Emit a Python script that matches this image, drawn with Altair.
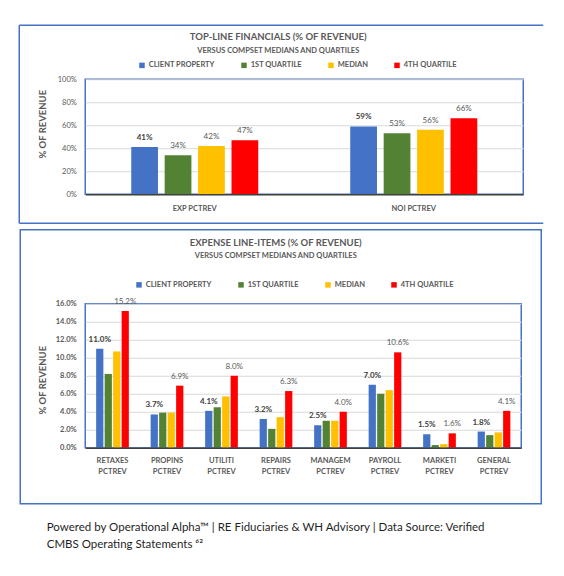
import altair as alt
import pandas as pd

# ---------------- data ----------------
SERIES = ["CLIENT PROPERTY", "1ST QUARTILE", "MEDIAN", "4TH QUARTILE"]
COLORS = ["#4472C4", "#548235", "#FFC000", "#FF0000"]

TOP_CATEGORIES = ["EXP PCTREV", "NOI PCTREV"]
TOP_CLIENT = [41, 59]
TOP_Q1 = [34, 53]
TOP_MEDIAN = [42, 56]
TOP_Q4 = [47, 66]

EXP_CATEGORIES = ["RETAXES PCTREV", "PROPINS PCTREV", "UTILITI PCTREV", "REPAIRS PCTREV",
                  "MANAGEM PCTREV", "PAYROLL PCTREV", "MARKETI PCTREV", "GENERAL PCTREV"]
EXP_CLIENT = [11.0, 3.7, 4.1, 3.2, 2.5, 7.0, 1.5, 1.8]
EXP_Q1 = [8.2, 3.9, 4.5, 2.1, 3.0, 6.0, 0.3, 1.4]
EXP_MEDIAN = [10.7, 3.9, 5.7, 3.4, 3.0, 6.4, 0.4, 1.7]
EXP_Q4 = [15.2, 6.9, 8.0, 6.3, 4.0, 10.6, 1.6, 4.1]

TOP_TICKS = [0, 20, 40, 60, 80, 100]
EXP_TICKS = [0, 2, 4, 6, 8, 10, 12, 14, 16]

TOP_TITLE = "TOP-LINE FINANCIALS (% OF REVENUE)"
EXP_TITLE = "EXPENSE LINE-ITEMS (% OF REVENUE)"
SUBTITLE = "VERSUS COMPSET MEDIANS AND QUARTILES"
Y_TITLE = "% OF REVENUE"
FOOTER_1 = "Powered by Operational Alpha\u2122 | RE Fiduciaries & WH Advisory | Data Source: Verified"
FOOTER_2 = "CMBS Operating Statements \u2076\u00b2"


def to_long(cats, lists):
    rows = []
    for s, vals in zip(SERIES, lists):
        for c, v in zip(cats, vals):
            rows.append({"category": c, "series": s, "value": v})
    return pd.DataFrame(rows)


top_df = to_long(TOP_CATEGORIES, [TOP_CLIENT, TOP_Q1, TOP_MEDIAN, TOP_Q4])
exp_df = to_long(EXP_CATEGORIES, [EXP_CLIENT, EXP_Q1, EXP_MEDIAN, EXP_Q4])
one = pd.DataFrame({"k": [0]})

# ---------------- styles ----------------
BLUE = "#4472C4"
GRAY = "#595959"
DARK = "#404040"
FONT = "Lato"


def color_enc(lx, ly, pad):
    return alt.Color(
        "series:N", sort=SERIES,
        scale=alt.Scale(domain=SERIES, range=COLORS),
        legend=alt.Legend(title=None, orient="none", legendX=lx, legendY=ly,
                          direction="horizontal", symbolType="square", symbolSize=30,
                          symbolStrokeWidth=0, labelFontSize=7.5, labelFontWeight="bold",
                          labelColor=GRAY, labelFont=FONT, columnPadding=pad, labelOffset=3),
    )


def text_at(txt, x, y, size, weight="bold", color=GRAY, align="center"):
    return alt.Chart(one).mark_text(text=txt, fontSize=size, fontWeight=weight, color=color,
                                    align=align, baseline="middle", font=FONT).encode(
        x=alt.value(x), y=alt.value(y))


def rule(x, x2, y, y2=None):
    enc = dict(x=alt.value(x), y=alt.value(y))
    if x2 is not None:
        enc["x2"] = alt.value(x2)
    if y2 is not None:
        enc["y2"] = alt.value(y2)
    return alt.Chart(one).mark_rule(color=BLUE, strokeWidth=1.5).encode(**enc)


# ---------------- top panel ----------------
W1, H1 = 438, 115
x1 = alt.X("category:N", sort=TOP_CATEGORIES,
           scale=alt.Scale(paddingInner=0.42, paddingOuter=0.21),
           axis=alt.Axis(title=None, labelAngle=0, labelFontWeight="bold", labelFontSize=7.5,
                         labelColor=GRAY, labelPadding=10, ticks=False, domainColor=DARK,
                         domainWidth=1.5, zindex=1))
xo1 = alt.XOffset("series:N", sort=SERIES, scale=alt.Scale(paddingInner=0.2, paddingOuter=0))
y1 = alt.Y("value:Q", scale=alt.Scale(domain=[0, 100], nice=False),
           axis=alt.Axis(values=TOP_TICKS, labelExpr="datum.value + '%'", title=Y_TITLE,
                         titleX=-43, titleY=44.5, titleAngle=-90, titleAlign="center",
                         titleBaseline="middle", titleFontSize=9.5, titleFontWeight="bold",
                         titleColor=GRAY, labelFontSize=7.5, labelColor=GRAY, labelPadding=9,
                         ticks=False, domain=False, gridColor="#D9D9D9"))

base1 = alt.Chart(top_df)
bars1 = base1.mark_bar().encode(x=x1, xOffset=xo1, y=y1, color=color_enc(53, -18, 25))
lab1 = base1.transform_calculate(label="format(datum.value, '.0f') + '%'")
lab1_client = lab1.transform_filter(alt.datum.series == SERIES[0]).mark_text(
    fontWeight="bold", fontSize=8, color=DARK, dy=-9, baseline="middle").encode(
    x=x1, xOffset=xo1, y=y1, text="label:N")
lab1_other = lab1.transform_filter(alt.datum.series != SERIES[0]).mark_text(
    fontSize=8, color=GRAY, dy=-9, baseline="middle").encode(
    x=x1, xOffset=xo1, y=y1, text="label:N")

top = alt.layer(
    rule(-66, 458, -54), rule(-66, None, -54, 144), rule(-66, 458, 144),
    bars1, lab1_client, lab1_other,
    text_at(TOP_TITLE, 193, -42, 9.5),
    text_at(SUBTITLE, 193, -28.5, 7.5),
).properties(width=W1, height=H1)

# ---------------- bottom panel ----------------
W2, H2 = 436, 144
x2 = alt.X("category:N", sort=EXP_CATEGORIES,
           scale=alt.Scale(paddingInner=0.4, paddingOuter=0.2),
           axis=alt.Axis(title=None, labelAngle=0, labelFontWeight="bold", labelFontSize=7.5,
                         labelColor=GRAY, labelPadding=8.5, labelLineHeight=11.5,
                         labelExpr="split(datum.label, ' ')", ticks=False, domainColor=DARK,
                         domainWidth=1.5, zindex=1))
xo2 = alt.XOffset("series:N", sort=SERIES, scale=alt.Scale(paddingInner=0.15, paddingOuter=0))
y2 = alt.Y("value:Q", scale=alt.Scale(domain=[0, 16], nice=False),
           axis=alt.Axis(values=EXP_TICKS, labelExpr="format(datum.value, '.1f') + '%'",
                         title=Y_TITLE, titleX=-42.3, titleY=76, titleAngle=-90,
                         titleAlign="center", titleBaseline="middle", titleFontSize=9.5,
                         titleFontWeight="bold", titleColor=GRAY, labelFontSize=7.5,
                         labelFontWeight="bold", labelColor=GRAY, labelPadding=9,
                         ticks=False, domain=False, gridColor="#D9D9D9"))

base2 = alt.Chart(exp_df)
bars2 = base2.mark_bar().encode(x=x2, xOffset=xo2, y=y2, color=color_enc(50, -23, 25))
lab2 = base2.transform_calculate(label="format(datum.value, '.1f') + '%'")
lab2_client = lab2.transform_filter(alt.datum.series == SERIES[0]).mark_text(
    fontWeight="bold", fontSize=8, color=DARK, dy=-9, baseline="middle").encode(
    x=x2, xOffset=xo2, y=y2, text="label:N")
lab2_q4 = lab2.transform_filter(alt.datum.series == SERIES[3]).mark_text(
    fontSize=8, color=GRAY, dy=-9, baseline="middle").encode(
    x=x2, xOffset=xo2, y=y2, text="label:N")

frame2 = alt.Chart(one).mark_rect(fill="transparent", stroke=BLUE, strokeWidth=1.5).encode(
    x=alt.value(-65), x2=alt.value(456), y=alt.value(-74), y2=alt.value(200))

bottom = alt.layer(
    frame2, bars2, lab2_client, lab2_q4,
    text_at(EXP_TITLE, 190.5, -61, 9.5),
    text_at(SUBTITLE, 190.5, -48, 7.5),
    text_at(FOOTER_1, -38.5, 224.5, 11.5, weight="normal", color="#1F1F1F", align="left"),
    text_at(FOOTER_2, -38.5, 241.5, 11.5, weight="normal", color="#1F1F1F", align="left"),
).properties(width=W2, height=H2)

chart = alt.vconcat(top, bottom, spacing=2.5).resolve_scale(
    color="independent", xOffset="independent", x="independent", y="independent"
).resolve_legend(color="independent").properties(
    padding={"left": 9.25, "top": 15.25, "right": 0, "bottom": 0}
).configure(font=FONT).configure_view(stroke=BLUE, strokeWidth=1.5)

chart.save("out.html", embed_options={"renderer": "svg", "actions": False})
